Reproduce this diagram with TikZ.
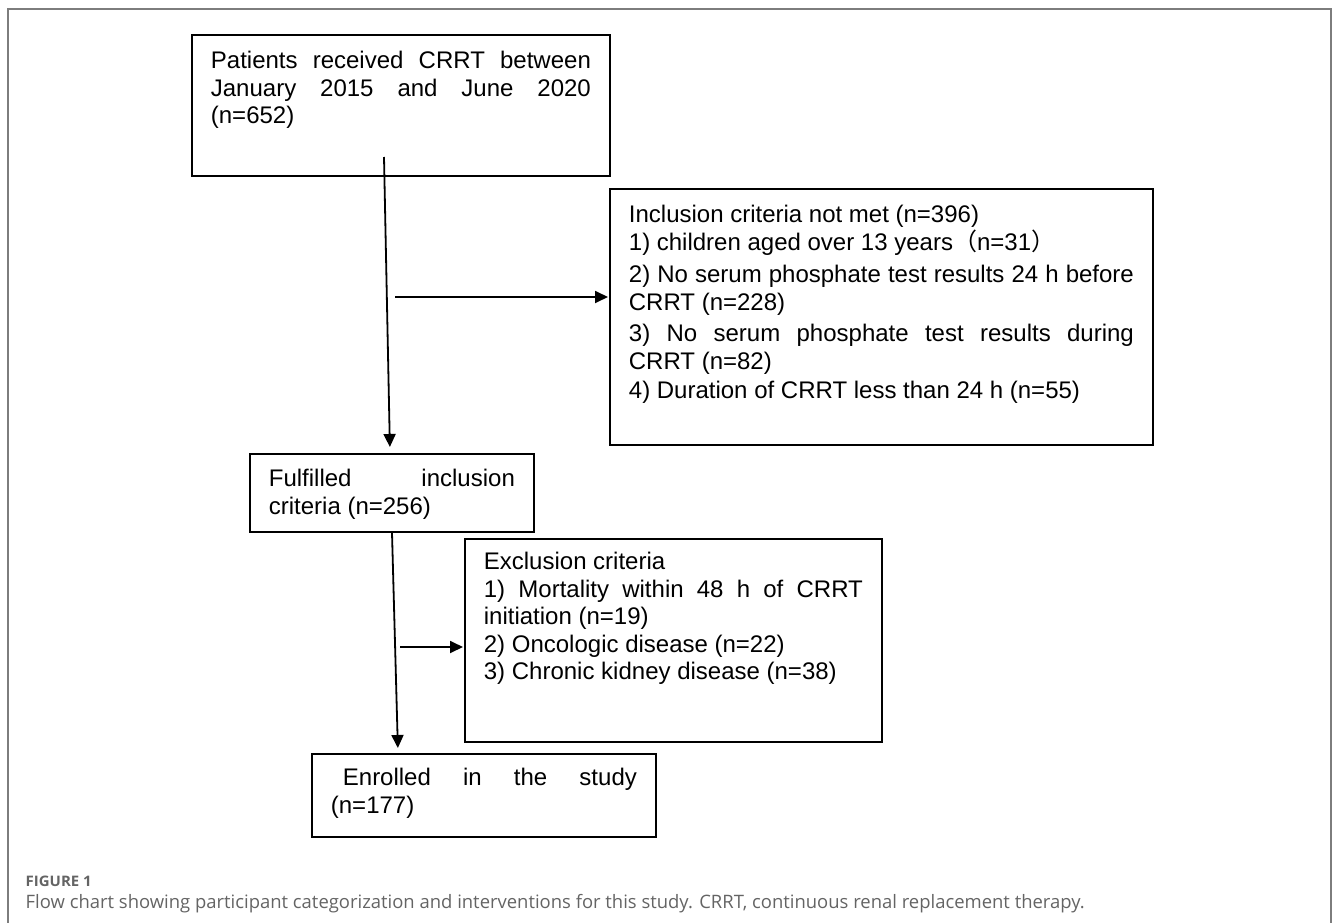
\documentclass[tikz,border=0pt]{standalone}
\usepackage{fontspec}
\usepackage{graphicx}
\setmainfont{Liberation Sans}
\newfontfamily\cjk{Noto Sans CJK SC}
\newfontfamily\capfont{Open Sans}
\usetikzlibrary{arrows.meta}
\definecolor{framegray}{RGB}{125,125,125}
\definecolor{capgray}{RGB}{100,100,100}
\newcommand\jline[1]{\makebox[\linewidth][s]{#1}}
\tikzset{
  box/.style={draw, line width=1.8pt, inner xsep=19pt, inner ysep=0pt, anchor=north west,
              font=\fontsize{24}{27.5}\selectfont},
  arr/.style={line width=1.8pt, -{Triangle[length=13pt,width=12pt]}},
  captxt/.style={anchor=base west, inner sep=0pt, text=capgray},
}
\begin{document}
\begin{tikzpicture}[x=1pt,y=-1pt]
\useasboundingbox (0,0) rectangle (1333,923);
\draw[framegray, line width=1.5pt] (8,935) -- (8,9) -- (1331,9) -- (1331,935);

\node[box] (b1) at (191,34) {\parbox[c][141pt][t]{380pt}{\rule{0pt}{34pt}\jline{Patients received CRRT between}\\
\jline{January 2015 and June 2020}\\
(n=652)}};

\node[box] (incl) at (609,188) {\parbox[c][256pt][t]{505pt}{\rule{0pt}{34pt}Inclusion criteria not met (n=396)\\
1) children aged over 13 years{\cjk （}n=31{\cjk ）}\\[5pt]
\jline{2) No serum phosphate test results 24 h before}\\
CRRT (n=228)\\[4pt]
\jline{3) No serum phosphate test results during}\\
CRRT (n=82)\\[2pt]
4) Duration of CRRT less than 24 h (n=55)}};

\node[box] (ful) at (249,453) {\parbox[c][78pt][t]{246pt}{\rule{0pt}{33pt}\jline{Fulfilled inclusion}\\
criteria (n=256)}};

\node[box] (excl) at (464,538) {\parbox[c][203pt][t]{379pt}{\rule{0pt}{31pt}Exclusion criteria\\
\jline{1) Mortality within 48 h of CRRT}\\
initiation (n=19)\\
2) Oncologic disease (n=22)\\
3) Chronic kidney disease (n=38)}};

\node[box] (enr) at (311,753) {\parbox[c][83pt][t]{306pt}{\rule{0pt}{32pt}\hspace*{12pt}\makebox[\dimexpr\linewidth-12pt\relax][s]{Enrolled in the study}\\
(n=177)}};

% connectors
\coordinate (aA) at (384,157);
\coordinate (aAx) at (390,0);
\draw[arr, shorten >=6pt] (aA) -- (aAx |- ful.north);

\coordinate (aB) at (395,297);
\draw[arr, shorten >=1pt] (aB) -- (aB -| incl.west);

\coordinate (aCs) at (392,0);
\coordinate (aCe) at (398,0);
\draw[arr, shorten >=5pt] (aCs |- ful.south) -- (aCe |- enr.north);

\coordinate (aD) at (400,647);
\draw[arr, shorten >=1pt] (aD) -- (aD -| excl.west);

% caption
\node[captxt] (fig) at (25.5,886) {\resizebox{66pt}{\height}{\capfont\bfseries\fontsize{14.5}{16}\selectfont FIGURE 1}};
\node[captxt] (cap) at (25.5,908) {\resizebox{1059pt}{\height}{\capfont\fontsize{18.5}{20}\selectfont Flow chart showing participant categorization and interventions for this study. CRRT, continuous renal replacement therapy.}};
\end{tikzpicture}
\end{document}
